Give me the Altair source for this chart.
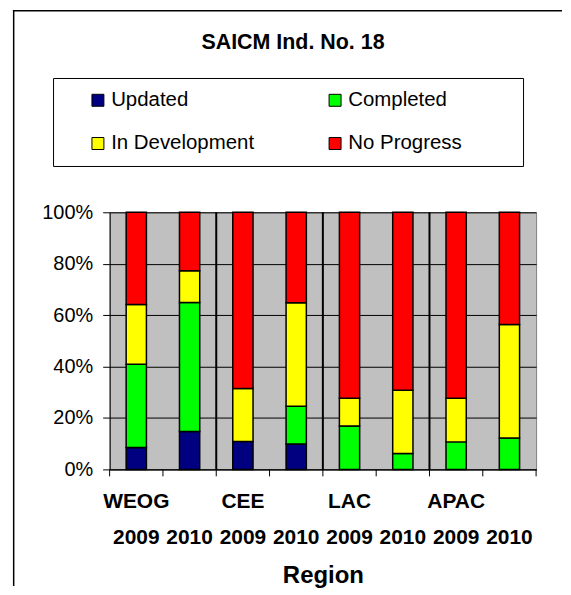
import altair as alt
import pandas as pd

# ---- data ----
categories = ["WEOG 2009", "WEOG 2010", "CEE 2009", "CEE 2010",
              "LAC 2009", "LAC 2010", "APAC 2009", "APAC 2010"]
statuses = ["Updated", "Completed", "In Development", "No Progress"]
colors = ["#000080", "#00FF00", "#FFFF00", "#FF0000"]
legend_order = ["Updated", "In Development", "Completed", "No Progress"]
updated = [8.5, 14.7, 10.8, 9.9, 0, 0, 0, 0]
completed = [32.4, 50.2, 0, 14.7, 16.9, 6.2, 10.7, 12.2]
in_development = [23.2, 12.4, 20.7, 40.2, 10.8, 24.6, 17.0, 44.2]
no_progress = [35.9, 22.7, 68.5, 35.2, 72.3, 69.2, 72.3, 43.6]
y_ticks = [0, 0.2, 0.4, 0.6, 0.8, 1.0]
region_breaks = [2, 4, 6]
category_bounds = list(range(len(categories) + 1))
chart_title = "SAICM Ind. No. 18"
x_title = "Region"

FONT = "Liberation Sans"

series = [updated, completed, in_development, no_progress]
rows = []
for si, (name, vals) in enumerate(zip(statuses, series)):
    for cat, v in zip(categories, vals):
        if v > 0:
            rows.append({"cat": cat, "status": name, "order": si, "pct": v})
df = pd.DataFrame(rows)

color_of = dict(zip(statuses, colors))

W, H = 428, 258

bars = alt.Chart(df).mark_bar(
    stroke="black", strokeWidth=1.5, width=alt.RelativeBandSize(0.38)
).encode(
    x=alt.X("cat:N", sort=categories,
            scale=alt.Scale(paddingInner=0, paddingOuter=0),
            axis=alt.Axis(
                title=x_title, titleFont=FONT, titleFontSize=24,
                titleFontWeight="bold", titleColor="black", titlePadding=16,
                labelExpr="indexof(datum.label, '2009') >= 0 ? [split(datum.label, ' ')[0], '2009'] : ['', '2010']",
                labelFont=FONT, labelFontSize=21, labelFontWeight="bold",
                labelColor="black", labelAngle=0, labelLineHeight=36.6,
                labelPadding=14, tickSize=7, tickOpacity=0,
                domainColor="black", grid=False)),
    y=alt.Y("pct:Q", stack="normalize",
            scale=alt.Scale(domain=[0, 1], nice=False),
            axis=alt.Axis(title=None, values=y_ticks, format="%",
                          labelFont=FONT, labelFontSize=20, labelColor="black",
                          labelPadding=10, tickSize=7, tickColor="black",
                          domainColor="black", gridColor="black",
                          gridWidth=1)),
    color=alt.Color("status:N",
                    scale=alt.Scale(domain=legend_order,
                                    range=[color_of[s] for s in legend_order]),
                    legend=alt.Legend(
                        title=None, orient="none", legendX=-22, legendY=-122.8,
                        columns=2, symbolType="square", symbolSize=144,
                        symbolStrokeColor="black", symbolStrokeWidth=1,
                        symbolOpacity=1,
                        labelFont=FONT, labelFontSize=20.5, labelColor="black",
                        labelOffset=3, columnPadding=70, rowPadding=22.5,
                        padding=0)),
    order=alt.Order("order:Q"),
)

bound_scale = alt.Scale(domain=[0, len(categories)], nice=False, zero=False)

seps = alt.Chart(pd.DataFrame({"b": region_breaks})).mark_rule(
    color="black", strokeWidth=2
).encode(x=alt.X("b:Q", scale=bound_scale, axis=None))

xticks = alt.Chart(pd.DataFrame({"b": category_bounds})).mark_rule(
    color="black", strokeWidth=1
).encode(x=alt.X("b:Q", scale=bound_scale, axis=None),
         y=alt.value(H), y2=alt.value(H + 7))

one = alt.Data(values=[{"k": 1}])

title_txt = alt.Chart(one).mark_text(
    text=chart_title, font=FONT, fontSize=21.5, fontWeight="bold",
    align="center", baseline="alphabetic", color="black"
).encode(x=alt.value(184), y=alt.value(-164.3))

legend_box = alt.Chart(one).mark_rect(
    fillOpacity=0, stroke="black", strokeWidth=1
).encode(x=alt.value(-56.3), x2=alt.value(415.4),
         y=alt.value(-134.3), y2=alt.value(-46))

frame_left = alt.Chart(one).mark_rule(color="black", strokeWidth=1.5).encode(
    x=alt.value(-96.3), y=alt.value(-203), y2=alt.value(375))
frame_top = alt.Chart(one).mark_rule(color="black", strokeWidth=1.5).encode(
    x=alt.value(-97.05), x2=alt.value(454), y=alt.value(-202.25))

chart = alt.layer(
    bars, seps, xticks, legend_box, title_txt, frame_left, frame_top
).resolve_scale(x="independent").properties(
    width=W, height=H,
    padding={"left": 4, "top": 0, "right": 0, "bottom": 0},
    background="white",
).configure_view(fill="#C0C0C0", stroke="#808080")

chart.save("out.html", embed_options={"renderer": "svg", "actions": False})
